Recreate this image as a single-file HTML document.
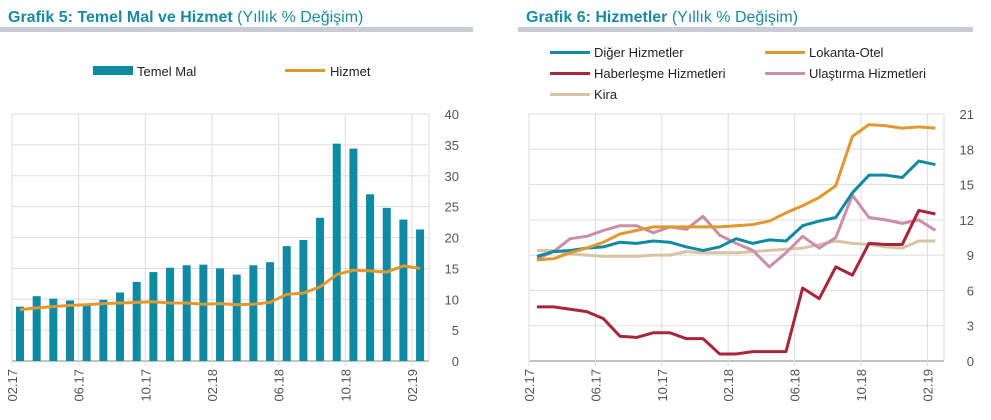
<!DOCTYPE html>
<html><head><meta charset="utf-8"><style>
body{margin:0;background:#fff;}
svg{display:block;font-family:"Liberation Sans",sans-serif;}
.t{font-size:16px;font-weight:bold;fill:#1a8aa3}
.tn{font-weight:normal}
.lg{font-size:13px;fill:#222}
.ax{font-size:13px;fill:#555}
</style></head><body>
<svg id="c" width="991" height="420">
<text class="t" x="8" y="22">Grafik 5: Temel Mal ve Hizmet <tspan class="tn">(Yıllık % Değişim)</tspan></text>
<rect x="0" y="27" width="473" height="5" fill="#c9ccd6"/>
<text class="t" x="526" y="22">Grafik 6: Hizmetler <tspan class="tn">(Yıllık % Değişim)</tspan></text>
<rect x="518" y="27" width="455" height="5" fill="#c9ccd6"/>
<g>
<rect x="93" y="66" width="40" height="9" fill="#0e8aa5"/>
<text class="lg" x="137" y="76">Temel Mal</text>
<rect x="285" y="69" width="40" height="3" fill="#e0982f"/>
<text class="lg" x="330" y="76">Hizmet</text>
</g>
<g id="g5"></g><g id="g6"></g><g id="lg6"></g>
</svg>
<script>
const months=["02.17","06.17","10.17","02.18","06.18","10.18","02.19"];
const temelMal=[8.8,10.5,10.1,9.8,9.0,9.9,11.1,12.8,14.4,15.1,15.5,15.6,15.0,14.0,15.5,16.0,18.6,19.6,23.2,35.2,34.4,27.0,24.8,22.9,21.3];
const hizmet=[8.3,8.6,8.8,9.0,9.1,9.3,9.4,9.5,9.6,9.4,9.4,9.2,9.3,9.1,9.2,9.5,10.8,11.0,12.0,14.0,14.7,14.6,14.4,15.4,15.0];
const ticks5=[0,5,10,15,20,25,30,35,40];
const ticks6=[0,3,6,9,12,15,18,21];
const diger=[8.9,9.3,9.4,9.6,9.7,10.1,10.0,10.2,10.1,9.7,9.4,9.7,10.4,10.0,10.3,10.2,11.5,11.9,12.2,14.3,15.8,15.8,15.6,17.0,16.7];
const lokanta=[8.6,8.7,9.2,9.6,10.1,10.8,11.1,11.4,11.4,11.4,11.4,11.4,11.5,11.6,11.9,12.6,13.2,13.9,14.9,19.1,20.1,20.0,19.8,19.9,19.8];
const haber=[4.6,4.6,4.4,4.2,3.6,2.1,2.0,2.4,2.4,1.9,1.9,0.6,0.6,0.8,0.8,0.8,6.2,5.3,8.0,7.3,10.0,9.9,9.9,12.8,12.5];
const ulas=[8.7,9.3,10.4,10.6,11.1,11.5,11.5,10.9,11.4,11.2,12.3,10.7,10.0,9.4,8.0,9.2,10.6,9.6,10.5,14.1,12.2,12.0,11.7,12.0,11.1];
const kira=[9.4,9.4,9.1,9.0,8.9,8.9,8.9,9.0,9.0,9.3,9.2,9.2,9.2,9.3,9.4,9.5,9.6,9.9,10.2,10.0,9.9,9.7,9.6,10.2,10.2];
const NS="http://www.w3.org/2000/svg";
function mk(p,t,a){const e=document.createElementNS(NS,t);for(const k in a)e.setAttribute(k,a[k]);p.appendChild(e);return e;}
function frame(g,x0,x1,yTop,yBot,max,ticks,step){
  const y=v=>yBot-(v/max)*(yBot-yTop);
  ticks.forEach(t=>{const l=mk(g,'line',{x1:x0,x2:x1,y1:y(t),y2:y(t),stroke:t===0?'#888':'#ddd','stroke-width':1});
    
    const tx=mk(g,'text',{x:x1+30,y:y(t)+5,'text-anchor':'end',class:'ax'});tx.textContent=t;
    });
  months.forEach((m,i)=>{const xx=x0+i*4*step;
    const l=mk(g,'line',{x1:xx,x2:xx,y1:yTop,y2:yBot+5,stroke:'#ddd'});
    
    const tx=mk(g,'text',{transform:`translate(${xx+5},${yBot+8}) rotate(-90)`,'text-anchor':'end',class:'ax'});tx.textContent=m;
    });
  mk(g,'line',{x1:x1,x2:x1,y1:yTop,y2:yBot,stroke:'#ddd'});
  return y;
}
function line(g,data,xf,y,col,name){const p=mk(g,'polyline',{points:data.map((v,i)=>xf(i)+','+y(v)).join(' '),fill:'none',stroke:col,'stroke-width':3,'stroke-linejoin':'round'});
  }
// chart 5
const g5=document.getElementById('g5');
const st=16.67;
const y5=frame(g5,12,429,114,361,40,ticks5,st);
const x5=i=>20+i*st;
temelMal.forEach((v,i)=>{const r=mk(g5,'rect',{x:x5(i)-4,y:y5(v),width:8,height:361-y5(v),fill:'#0e8aa5'});
  });
line(g5,hizmet,x5,y5,'#e0982f','line-hizmet');
// chart 6
const g6=document.getElementById('g6');
const y6=frame(g6,529,944,114,361,21,ticks6,16.6);
const x6=i=>537+i*16.6;
const series=[[kira,'#d9c3a3','line-kira'],[ulas,'#c98fa8','line-ulastirma'],[diger,'#0e8aa5','line-diger'],[lokanta,'#e0982f','line-lokanta'],[haber,'#a8253a','line-haberlesme']];
series.forEach(s=>line(g6,s[0],x6,y6,s[1],s[2]));
const lg=document.getElementById('lg6');
const items=[["Diğer Hizmetler",'#0e8aa5',550,53],["Lokanta-Otel",'#e0982f',765,53],["Haberleşme Hizmetleri",'#a8253a',550,74],["Ulaştırma Hizmetleri",'#c98fa8',765,74],["Kira",'#d9c3a3',550,95]];
items.forEach(it=>{const r=mk(lg,'rect',{x:it[2],y:it[3]-2,width:40,height:3,fill:it[1]});
  
  const t=mk(lg,'text',{x:it[2]+44,y:it[3]+4,class:'lg'});t.textContent=it[0];
  });
</script>
</body></html>
